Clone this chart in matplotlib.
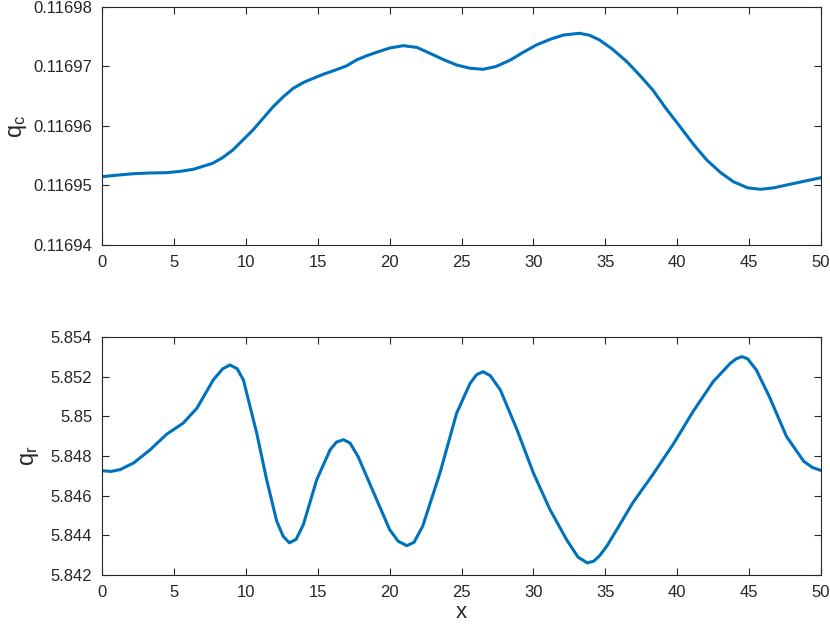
import numpy as np
import matplotlib
matplotlib.use("Agg")
import matplotlib.pyplot as plt

plt.rcParams['font.family'] = ['Liberation Sans', 'DejaVu Sans']

# q_c readings (x, value)
xc = [0, 1.1, 2.2, 3.3, 4.5, 5.5, 6.35, 7.7, 8.4, 9.1, 10.5, 11.9, 12.6, 13.3,
      14.0, 14.7, 15.4, 16.1, 17.0, 17.7, 18.4, 19.1, 20.0, 20.95, 21.9, 22.8,
      23.7, 24.66, 25.6, 26.5, 27.4, 28.4, 29.3, 30.2, 31.2, 32.1, 33.2, 33.9,
      34.6, 35.5, 36.5, 37.4, 38.3, 39.2, 40.2, 41.1, 42.05, 43.0, 43.9, 44.9,
      45.8, 46.7, 47.6, 48.8, 50]
qc = [0.11695148, 0.11695175, 0.11695198, 0.11695210, 0.11695215, 0.11695240,
      0.11695272, 0.11695373, 0.11695470, 0.11695597, 0.11695933, 0.11696324,
      0.11696490, 0.11696634, 0.11696730, 0.11696802, 0.11696870, 0.11696929,
      0.11697010, 0.11697110, 0.11697180, 0.11697239, 0.11697310, 0.11697350,
      0.11697320, 0.11697222, 0.11697120, 0.11697025, 0.11696970, 0.11696953,
      0.11697000, 0.11697109, 0.11697240, 0.11697361, 0.11697460, 0.11697529,
      0.11697558, 0.11697525, 0.11697445, 0.11697290, 0.11697080, 0.11696850,
      0.11696605, 0.11696300, 0.11695988, 0.11695700, 0.11695429, 0.11695220,
      0.11695064, 0.11694960, 0.11694936, 0.11694960, 0.11695008, 0.11695070,
      0.11695131]

# q_r readings (x, value)
xr = [0, 0.6, 1.25, 2.2, 3.34, 4.5, 5.65, 6.6, 7.74, 8.4, 8.9, 9.4, 9.83,
      10.76, 11.45, 12.15, 12.6, 13.03, 13.5, 14.0, 14.93, 15.86, 16.3, 16.8,
      17.25, 17.8, 18.6, 20.0, 20.6, 21.2, 21.7, 22.3, 23.5, 24.66, 25.6, 26.05,
      26.5, 27.0, 27.7, 28.86, 30.0, 31.15, 32.3, 33.1, 33.75, 34.2, 34.6, 35.1,
      35.8, 36.9, 38.3, 39.7, 41.1, 42.5, 43.7, 44.1, 44.5, 44.9, 45.5, 46.4,
      47.6, 48.8, 49.4, 50]
qr = [5.84726, 5.84722, 5.84731, 5.84765, 5.84831, 5.84910, 5.84966, 5.85041,
      5.85184, 5.85240, 5.85259, 5.85240, 5.85184, 5.84915, 5.84680, 5.84471,
      5.84395, 5.84362, 5.84380, 5.84454, 5.84680, 5.84831, 5.84870, 5.84882,
      5.84865, 5.84798, 5.84664, 5.84429, 5.84370, 5.84348, 5.84365, 5.84446,
      5.84714, 5.85016, 5.85167, 5.85210, 5.85225, 5.85205, 5.85133, 5.84932,
      5.84714, 5.84530, 5.84379, 5.84290, 5.84261, 5.84270, 5.84297, 5.84345,
      5.84429, 5.84563, 5.84706, 5.84857, 5.85024, 5.85175, 5.85268, 5.85290,
      5.85301, 5.85290, 5.85234, 5.85100, 5.84898, 5.84773, 5.84742, 5.84727]

blue = '#0072BD'
dark = '#262626'

fig = plt.figure(figsize=(8.3, 6.35), dpi=100)
ax1 = fig.add_axes([0.1229, 0.6142, 0.8663, 0.3748])
ax2 = fig.add_axes([0.1229, 0.0945, 0.8663, 0.3748])

for ax in (ax1, ax2):
    ax.set_xlim(0, 50)
    ax.set_xticks(np.arange(0, 51, 5))
    ax.tick_params(direction='in', top=True, right=True, length=5, width=0.8,
                   colors=dark, labelsize=12, pad=7)
    for s in ax.spines.values():
        s.set_color(dark)
        s.set_linewidth(0.8)

ax1.plot(xc, qc, color=blue, lw=2.2)
ax1.set_ylim(0.11694, 0.11698)
ax1.set_yticks(np.linspace(0.11694, 0.11698, 5))
ax1.set_yticklabels(['0.11694', '0.11695', '0.11696', '0.11697', '0.11698'])
ax1.set_ylabel(r'$\mathregular{q_c}$', fontsize=17, color=dark, labelpad=3)

ax2.plot(xr, qr, color=blue, lw=2.2)
ax2.set_ylim(5.842, 5.854)
ax2.set_yticks(np.linspace(5.842, 5.854, 7))
ax2.set_yticklabels(['5.842', '5.844', '5.846', '5.848', '5.85', '5.852', '5.854'])
ax2.set_ylabel(r'$\mathregular{q_r}$', fontsize=17, color=dark, labelpad=7)
ax2.set_xlabel('x', fontsize=16, color=dark, labelpad=2)

fig.savefig('out.png', dpi=100)
